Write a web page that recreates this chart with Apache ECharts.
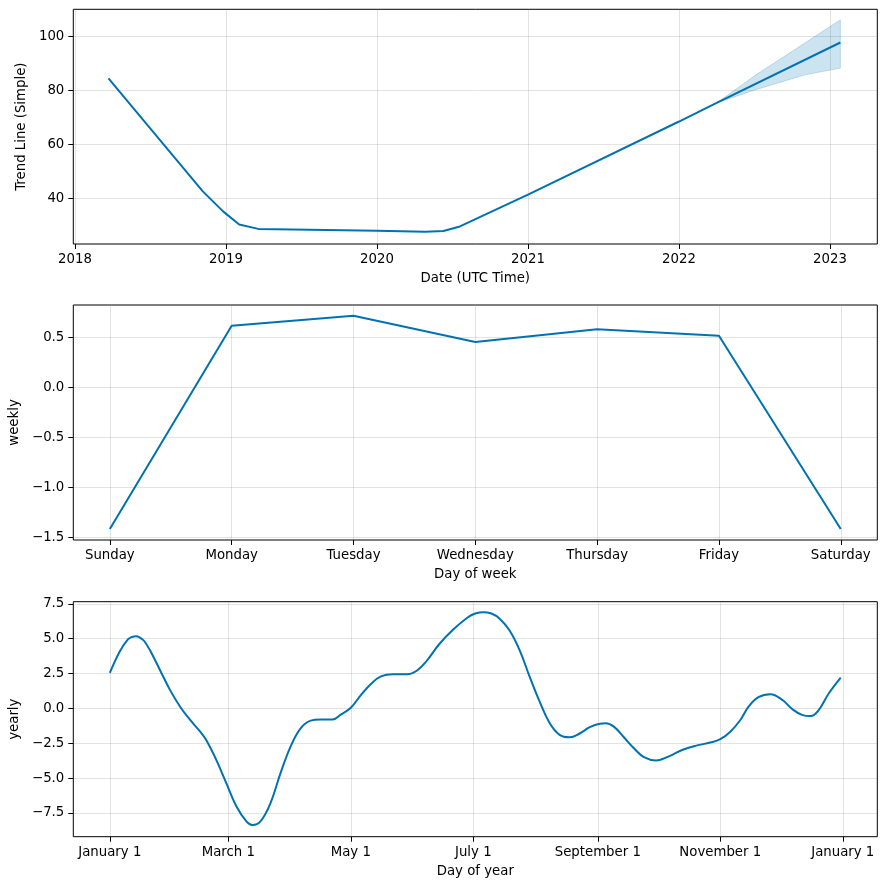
<!DOCTYPE html>
<html><head><meta charset="utf-8">
<script src="https://cdn.jsdelivr.net/npm/echarts@6/dist/echarts.min.js"></script>
<style>html,body{margin:0;padding:0;background:#fff}#c{width:886px;height:889px}</style>
</head><body><div id="c"></div>
<script>
// ---------- data ----------
const trendDates = ['2018-03-23','2018-11-06','2018-12-25','2019-02-02','2019-03-20','2020-01-01','2020-04-27','2020-06-10','2020-07-20','2021-01-01','2022-01-01','2022-04-02','2023-01-26'];
const trendValues = [84.5,42.6,35.2,30.3,28.7,28.0,27.6,27.9,29.6,41.4,68.5,75.4,97.8];
const bandDates = ['2022-04-02','2022-07-05','2022-11-02','2023-01-26'];
const bandLower = [75.4,80.3,85.8,88.3];
const bandUpper = [75.4,85.7,97.7,106.2];
const yearTicks = [2018,2019,2020,2021,2022,2023];
const trendTicks = [40,60,80,100];

const weekDays = ['Sunday','Monday','Tuesday','Wednesday','Thursday','Friday','Saturday'];
const weeklyValues = [-1.417,0.616,0.716,0.453,0.58,0.516,-1.417];
const weeklyTicks = [-1.5,-1.0,-0.5,0.0,0.5];

const yearlyDays = [0,5,9,11,13,15,17,20,25,30,35,40,45,48,53,58,63,68,71,75,80,85,90,95,100,105,111,115,120,125,130,135,141,148,153,158,164,171,178,182,186,190,194,199,204,209,214,219,224,229,234,239,244,247,251,256,261,266,272,279,285,292,299,304,309,314,318,323,329,335,340,345,349,353,358,364];
const yearlyValues = [2.55,4.1,4.95,5.12,5.17,5.08,4.85,4.17,2.74,1.31,0.12,-0.83,-1.67,-2.26,-3.69,-5.36,-7.02,-8.10,-8.36,-8.10,-6.79,-4.64,-2.74,-1.43,-0.88,-0.8,-0.8,-0.45,0.05,0.95,1.75,2.3,2.45,2.45,2.72,3.45,4.6,5.65,6.5,6.8,6.9,6.8,6.45,5.6,4.2,2.3,0.5,-1.05,-1.9,-2.07,-1.8,-1.35,-1.1,-1.07,-1.31,-2.07,-2.86,-3.5,-3.74,-3.4,-2.98,-2.67,-2.45,-2.21,-1.67,-0.83,0.1,0.8,1.02,0.6,-0.07,-0.48,-0.55,-0.12,1.07,2.21];
const yearlyTickDays = [0,59,120,181,243,304,365];
const yearlyTickLabels = ['January 1','March 1','May 1','July 1','September 1','November 1','January 1'];
const yearlyTicksY = [-7.5,-5.0,-2.5,0.0,2.5,5.0,7.5];

// ---------- helpers ----------
function decYear(s){
  const d = new Date(s + 'T00:00:00Z');
  const y = d.getUTCFullYear();
  const a = Date.UTC(y,0,1), b = Date.UTC(y+1,0,1);
  return y + (d.getTime()-a)/(b-a);
}
const FONT = 'DejaVu Sans';
const BLUE = '#0072B2';
function fmt1(v){ return v < 0 ? '\u2212' + Math.abs(v).toFixed(1) : v.toFixed(1); }
const textStyle = {color:'#000', fontSize:13.3, fontFamily:FONT};
const splitStyle = {show:true, lineStyle:{color:'rgba(128,128,128,0.22)', width:1}};

function xAx(gi, min, max, ticks, fmt, name){
  return {type:'value', gridIndex:gi, min:min, max:max, name:name, nameLocation:'middle', nameGap:28,
    nameTextStyle:textStyle, axisLine:{show:false, onZero:false},
    axisTick:{show:true, length:5, lineStyle:{color:'#000', width:1}, customValues:ticks},
    axisLabel:Object.assign({customValues:ticks, formatter:fmt, margin:9}, textStyle),
    splitLine:splitStyle};
}
function yAx(gi, min, max, ticks, fmt, name, gap){
  return {type:'value', gridIndex:gi, min:min, max:max, name:name, nameLocation:'middle', nameGap:gap, nameRotate:90,
    nameTextStyle:textStyle, axisLine:{show:false, onZero:false},
    axisTick:{show:true, length:5, lineStyle:{color:'#000', width:1}, customValues:ticks},
    axisLabel:Object.assign({customValues:ticks, formatter:fmt, margin:9}, textStyle),
    splitLine:splitStyle};
}
const gridBase = {left:73.3, width:804, show:true, borderColor:'#000', borderWidth:1, backgroundColor:'transparent', containLabel:false, outerBoundsMode:'none'};

const trendData = trendDates.map((d,i)=>[decYear(d), trendValues[i]]);
const bandX = bandDates.map(decYear);
const weeklyData = weeklyValues.map((v,i)=>[i, v]);
const yearlyData = yearlyDays.map((d,i)=>[d, yearlyValues[i]]);

const option = {
  animation:false,
  backgroundColor:'#fff',
  grid:[
    Object.assign({top:9.3, height:234.7}, gridBase),
    Object.assign({top:305, height:235}, gridBase),
    Object.assign({top:601.7, height:235}, gridBase)
  ],
  xAxis:[
    xAx(0, 2017.989, 2023.313, yearTicks, v=>String(Math.round(v)), 'Date (UTC Time)'),
    xAx(1, -0.3, 6.3, [0,1,2,3,4,5,6], v=>weekDays[Math.round(v)], 'Day of week'),
    xAx(2, -18.2, 382.2, yearlyTickDays, v=>yearlyTickLabels[yearlyTickDays.indexOf(Math.round(v))], 'Day of year')
  ],
  yAxis:[
    yAx(0, 23.1, 110.1, trendTicks, v=>String(Math.round(v)), 'Trend Line (Simple)', 43),
    yAx(1, -1.527, 0.823, weeklyTicks, fmt1, 'weekly', 45),
    yAx(2, -9.2, 7.65, yearlyTicksY, fmt1, 'yearly', 45)
  ],
  series:[
    {type:'custom', xAxisIndex:0, yAxisIndex:0, data:[[bandX[0], bandLower[0]]], z:1,
      renderItem:function(params, api){
        const pts = [];
        for (let i=0;i<bandX.length;i++) pts.push(api.coord([bandX[i], bandUpper[i]]));
        for (let i=bandX.length-1;i>=0;i--) pts.push(api.coord([bandX[i], bandLower[i]]));
        return {type:'polygon', shape:{points:pts},
          style:{fill:'rgba(0,114,178,0.2)', stroke:'rgba(0,114,178,0.2)', lineWidth:1}};
      }},
    {type:'line', xAxisIndex:0, yAxisIndex:0, data:trendData, symbol:'none',
      lineStyle:{color:BLUE, width:2}, z:3},
    {type:'line', xAxisIndex:1, yAxisIndex:1, data:weeklyData, symbol:'none',
      lineStyle:{color:BLUE, width:2}},
    {type:'line', xAxisIndex:2, yAxisIndex:2, data:yearlyData, symbol:'none', smooth:0.4,
      lineStyle:{color:BLUE, width:2}}
  ]
};
const chart = echarts.init(document.getElementById('c'), null, {renderer:'canvas'});
chart.setOption(option);
</script></body></html>
